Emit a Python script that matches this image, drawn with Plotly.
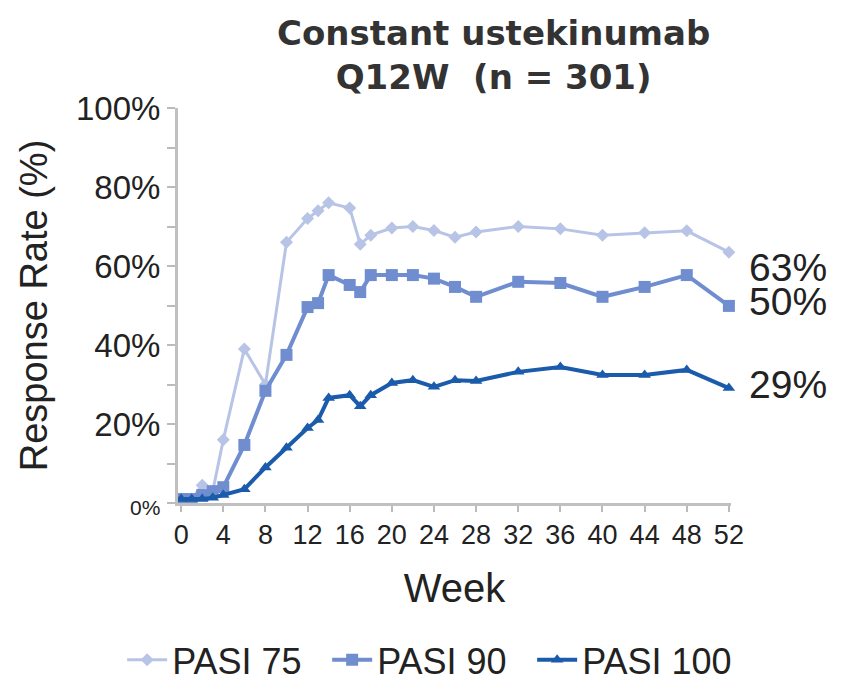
import plotly.graph_objects as go

weeks_75 = [0, 1, 2, 3, 4, 6, 8, 10, 12, 13, 14, 16, 17, 18, 20, 22, 24, 26, 28, 32, 36, 40, 44, 48, 52]
pasi75 = [1, 1, 4.5, 3, 16, 39, 30, 66, 72, 74, 76, 74.7, 65.5, 67.8, 69.6, 70, 69, 67.3, 68.6, 70, 69.4, 67.8, 68.4, 68.9, 63.5]

weeks_90 = [0, 1, 2, 3, 4, 6, 8, 10, 12, 13, 14, 16, 17, 18, 20, 22, 24, 26, 28, 32, 36, 40, 44, 48, 52]
pasi90 = [1, 1, 2, 3, 4, 14.7, 28.4, 37.5, 49.6, 50.6, 57.7, 55.2, 53.4, 57.7, 57.7, 57.7, 56.8, 54.7, 52.2, 56, 55.7, 52.2, 54.7, 57.7, 49.9]

weeks_100 = [0, 1, 2, 3, 4, 6, 8, 10, 12, 13, 14, 16, 17, 18, 20, 22, 24, 26, 28, 32, 36, 40, 44, 48, 52]
pasi100 = [1, 1, 1, 1.3, 2, 3.5, 9, 14, 19, 21, 26.6, 27.3, 24.5, 27.3, 30.4, 31.1, 29.4, 31.1, 30.9, 33.2, 34.4, 32.4, 32.4, 33.7, 29.1]

end_labels = ["63%", "50%", "29%"]
end_label_y = [59.5, 51.1, 29.9]

x_ticks = list(range(0, 53, 4))
y_ticks = list(range(0, 101, 10))
y_ticktext = ['<span style="font-size:21px">0%</span>', "", "20%", "", "40%", "", "60%", "", "80%", "", "100%"]

c75 = "#b7c4e6"
c90 = "#6f8dcf"
c100 = "#1b5bab"
FONT = "Liberation Sans, Arial, sans-serif"

W, H = 833, 686

fig = go.Figure()
fig.add_trace(go.Scatter(x=weeks_75, y=pasi75, name="PASI 75", mode="lines+markers",
                         line=dict(color=c75, width=3), marker=dict(symbol="diamond", size=10, color=c75),
                         cliponaxis=False))
fig.add_trace(go.Scatter(x=weeks_90, y=pasi90, name="PASI 90", mode="lines+markers",
                         line=dict(color=c90, width=4), marker=dict(symbol="square", size=12, color=c90),
                         cliponaxis=False))
fig.add_trace(go.Scatter(x=weeks_100, y=pasi100, name="PASI 100", mode="lines+markers",
                         line=dict(color=c100, width=4), marker=dict(symbol="triangle-up", size=11, color=c100),
                         cliponaxis=False))

for txt, yv in zip(end_labels, end_label_y):
    fig.add_annotation(x=52, y=yv, text=txt, showarrow=False, xanchor="left", yanchor="middle",
                       xshift=18, font=dict(family=FONT, size=39, color="#222222"))

fig.update_layout(
    width=W, height=H,
    margin=dict(l=170, r=110, t=100, b=191, autoexpand=False),
    paper_bgcolor="white", plot_bgcolor="white",
    title=dict(text="<b>Constant ustekinumab<br>Q12W  (n = 301)</b>", x=0.583, xanchor="center",
               y=1 - 36.5 / H, yanchor="middle",
               font=dict(family="DejaVu Sans", size=34, color="#333333")),
    showlegend=True,
    legend=dict(orientation="h", x=-0.101, xanchor="left", y=-0.397, yanchor="middle",
                font=dict(family=FONT, size=36, color="#222222"), itemwidth=40,
                entrywidth=150, tracegroupgap=0, bgcolor="rgba(0,0,0,0)"),
    xaxis=dict(range=[-0.3, 52.2], tickmode="array", tickvals=x_ticks, ticks="outside", ticklen=6,
               tickcolor="#bbbbbb", tickwidth=2, showline=True, linecolor="#c0c0c0", linewidth=3,
               showgrid=False, zeroline=False, automargin=False,
               tickfont=dict(family=FONT, size=27, color="#222222"),
               title=dict(text="Week", font=dict(family=FONT, size=40, color="#222222"), standoff=25)),
    yaxis=dict(range=[0, 100], tickmode="array", tickvals=y_ticks, ticktext=y_ticktext, ticks="outside",
               ticklen=8, tickcolor="#bbbbbb", tickwidth=2, showline=True, linecolor="#c0c0c0", linewidth=3,
               showgrid=False, zeroline=False, automargin=False,
               tickfont=dict(family=FONT, size=33, color="#222222"),
               title=dict(text="Response Rate (%)", font=dict(family=FONT, size=38, color="#222222"),
                          standoff=17)),
)

fig.write_html("out.html")
